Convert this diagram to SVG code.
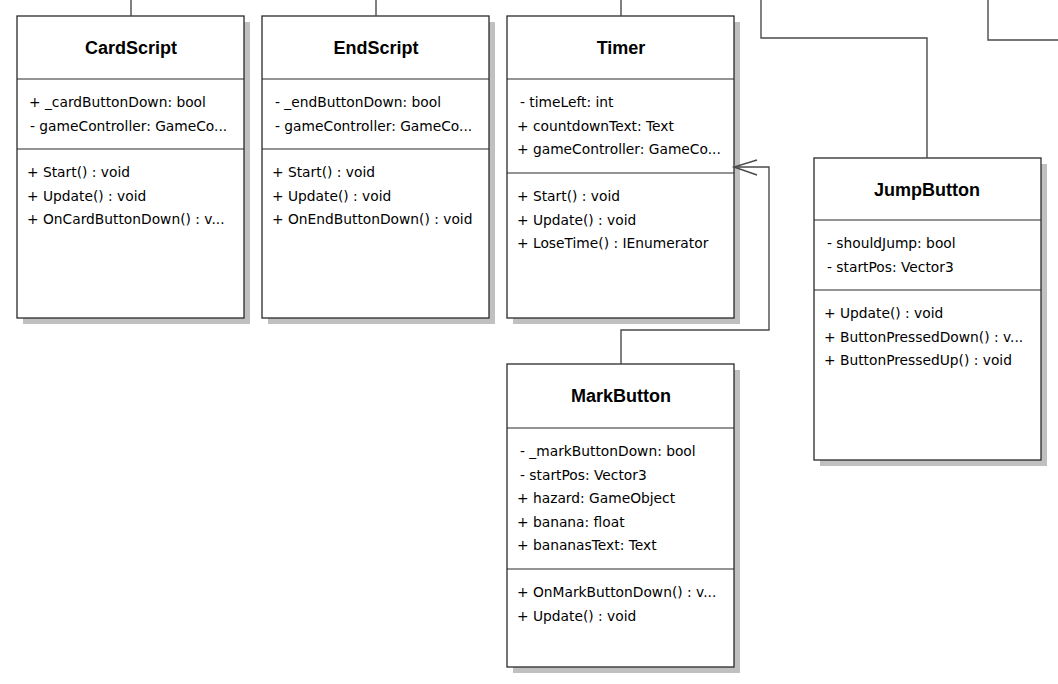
<svg xmlns="http://www.w3.org/2000/svg" width="1058" height="684" viewBox="0 0 1058 684">
  <defs>
    <style>
      .shadow { fill: #c0c0c0; }
      .box { fill: #ffffff; stroke: #2a2a2a; stroke-width: 1.3; }
      .sep { stroke: #2a2a2a; stroke-width: 1.2; }
      .title { font-family: "Liberation Sans", Arial, sans-serif; font-weight: bold; font-size: 18px; fill: #000; text-anchor: middle; }
      .member { font-family: "DejaVu Sans", Verdana, sans-serif; font-size: 13.8px; fill: #000; }
      .conn { fill: none; stroke: #4a4a4a; stroke-width: 1.4; }
    </style>
  </defs>
  <rect width="1058" height="684" fill="#ffffff"/>

  <!-- CardScript -->
  <g id="CardScript">
    <rect class="shadow" x="23" y="22" width="227" height="302"/>
    <rect class="box" x="17" y="16" width="227" height="302"/>
    <line class="sep" x1="17" y1="79" x2="244" y2="79"/>
    <line class="sep" x1="17" y1="149" x2="244" y2="149"/>
    <text class="title" x="131" y="54">CardScript</text>
    <text class="member" x="29" y="107">+ _cardButtonDown: bool</text>
    <text class="member" x="30" y="130.5">- gameController: GameCo...</text>
    <text class="member" x="27" y="177">+ Start() : void</text>
    <text class="member" x="27" y="200.5">+ Update() : void</text>
    <text class="member" x="27" y="224">+ OnCardButtonDown() : v...</text>
  </g>

  <!-- EndScript -->
  <g id="EndScript">
    <rect class="shadow" x="268" y="22" width="227" height="302"/>
    <rect class="box" x="262" y="16" width="227" height="302"/>
    <line class="sep" x1="262" y1="79" x2="489" y2="79"/>
    <line class="sep" x1="262" y1="149" x2="489" y2="149"/>
    <text class="title" x="376" y="54">EndScript</text>
    <text class="member" x="275" y="107">- _endButtonDown: bool</text>
    <text class="member" x="275" y="130.5">- gameController: GameCo...</text>
    <text class="member" x="272" y="177">+ Start() : void</text>
    <text class="member" x="272" y="200.5">+ Update() : void</text>
    <text class="member" x="272" y="224">+ OnEndButtonDown() : void</text>
  </g>

  <!-- Timer -->
  <g id="Timer">
    <rect class="shadow" x="513" y="22" width="227" height="302"/>
    <rect class="box" x="507" y="16" width="227" height="302"/>
    <line class="sep" x1="507" y1="79" x2="734" y2="79"/>
    <line class="sep" x1="507" y1="173" x2="734" y2="173"/>
    <text class="title" x="621" y="54">Timer</text>
    <text class="member" x="520" y="107">- timeLeft: int</text>
    <text class="member" x="517" y="130.5">+ countdownText: Text</text>
    <text class="member" x="517" y="154">+ gameController: GameCo...</text>
    <text class="member" x="517" y="201">+ Start() : void</text>
    <text class="member" x="517" y="224.5">+ Update() : void</text>
    <text class="member" x="517" y="248">+ LoseTime() : IEnumerator</text>
  </g>

  <!-- MarkButton -->
  <g id="MarkButton">
    <rect class="shadow" x="513" y="370" width="227" height="303"/>
    <rect class="box" x="507" y="364" width="227" height="303"/>
    <line class="sep" x1="507" y1="428" x2="734" y2="428"/>
    <line class="sep" x1="507" y1="569" x2="734" y2="569"/>
    <text class="title" x="621" y="402">MarkButton</text>
    <text class="member" x="520" y="456">- _markButtonDown: bool</text>
    <text class="member" x="520" y="479.5">- startPos: Vector3</text>
    <text class="member" x="517" y="503">+ hazard: GameObject</text>
    <text class="member" x="517" y="526.5">+ banana: float</text>
    <text class="member" x="517" y="550">+ bananasText: Text</text>
    <text class="member" x="517" y="597">+ OnMarkButtonDown() : v...</text>
    <text class="member" x="517" y="620.5">+ Update() : void</text>
  </g>

  <!-- JumpButton -->
  <g id="JumpButton">
    <rect class="shadow" x="820" y="164" width="227" height="302"/>
    <rect class="box" x="814" y="158" width="227" height="302"/>
    <line class="sep" x1="814" y1="220" x2="1041" y2="220"/>
    <line class="sep" x1="814" y1="290" x2="1041" y2="290"/>
    <text class="title" x="927" y="195.5">JumpButton</text>
    <text class="member" x="827" y="248">- shouldJump: bool</text>
    <text class="member" x="827" y="271.5">- startPos: Vector3</text>
    <text class="member" x="824" y="318">+ Update() : void</text>
    <text class="member" x="824" y="341.5">+ ButtonPressedDown() : v...</text>
    <text class="member" x="824" y="365">+ ButtonPressedUp() : void</text>
  </g>

  <!-- connectors, drawn last so the arrowhead sits over the Timer shadow -->
  <g id="connectors">
    <path class="conn" d="M131,0 V16"/>
    <path class="conn" d="M376,0 V16"/>
    <path class="conn" d="M621,0 V16"/>
    <path class="conn" d="M761,0 V38 H927 V158"/>
    <path class="conn" d="M988,0 V40 H1058"/>
    <path class="conn" d="M621,364 V330 H769 V167 H734"/>
    <path class="conn" d="M757,160 L734,167 L757,175"/>
  </g>
</svg>
